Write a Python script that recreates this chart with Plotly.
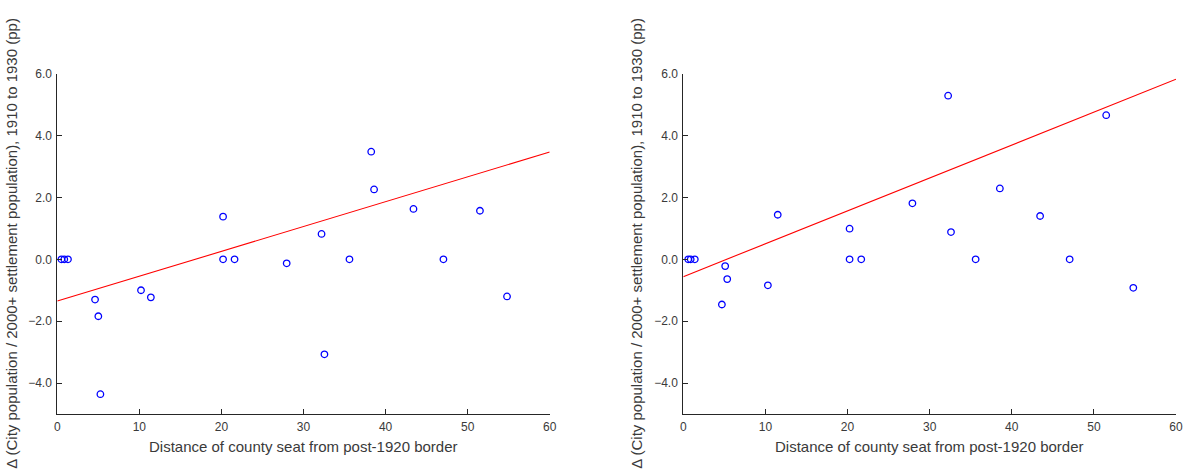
import plotly.graph_objects as go

# Left panel data
left_x = [0.5, 0.85, 1.3, 4.6, 5.0, 5.25, 10.2, 11.4, 20.2, 20.2, 21.6, 27.95,
          32.2, 32.55, 35.6, 38.25, 38.6, 43.4, 47.05, 51.5, 54.8]
left_y = [0.0, 0.0, 0.0, -1.30, -1.84, -4.36, -1.0, -1.23, 0.0, 1.38, 0.0, -0.13,
          0.82, -3.07, 0.0, 3.48, 2.26, 1.63, 0.0, 1.57, -1.2]
left_fit_x = [0, 60]
left_fit_y = [-1.35, 3.47]

# Right panel data
right_x = [0.6, 0.9, 1.4, 4.7, 5.1, 5.35, 10.3, 11.5, 20.25, 20.25, 21.67, 27.9,
           32.25, 32.6, 35.6, 38.55, 43.45, 47.05, 51.5, 54.8]
right_y = [0.0, 0.0, 0.0, -1.46, -0.22, -0.64, -0.84, 1.44, 0.0, 0.99, 0.0, 1.81,
           5.29, 0.88, 0.0, 2.29, 1.40, 0.0, 4.66, -0.92]
right_fit_x = [0, 60]
right_fit_y = [-0.56, 5.82]

y_ticks = [-4, -2, 0, 2, 4, 6]
x_ticks = [0, 10, 20, 30, 40, 50, 60]

x_title = "Distance of county seat from post-1920 border"
y_title = "\u0394 (City population / 2000+ settlement population), 1910 to 1930 (pp)"

FONT = "Liberation Sans, Arial, sans-serif"
AXC = "#262626"
TXC = "#3a3a3a"

fig = go.Figure()

def add_panel(xs, ys, fx, fy, xa, ya):
    fig.add_trace(go.Scatter(x=fx, y=fy, mode="lines", xaxis=xa, yaxis=ya,
                             line=dict(color="#ff0000", width=1.1),
                             showlegend=False, hoverinfo="skip"))
    fig.add_trace(go.Scatter(x=xs, y=ys, mode="markers", xaxis=xa, yaxis=ya,
                             marker=dict(symbol="circle-open", size=6.5, color="#0000ff",
                                         line=dict(width=1.3, color="#0000ff")),
                             cliponaxis=False, showlegend=False))

add_panel(left_x, left_y, left_fit_x, left_fit_y, "x", "y")
add_panel(right_x, right_y, right_fit_x, right_fit_y, "x2", "y2")

W, H = 1184, 471
ydom = [(H - 414) / H, (H - 73.7) / H]
xdom1 = [57.3 / W, 549.7 / W]
xdom2 = [683.3 / W, 1176 / W]

common_x = dict(range=[0, 60], tickvals=x_ticks, showline=True, linecolor=AXC, linewidth=1,
                ticks="inside", ticklen=5, tickcolor=AXC, showgrid=False, zeroline=False,
                automargin=False, ticklabelstandoff=2,
                tickfont=dict(family=FONT, size=12, color=TXC), fixedrange=True)
common_y = dict(range=[-5, 6], tickvals=y_ticks, tickformat=".1f", showline=True, linecolor=AXC,
                linewidth=1, ticks="inside", ticklen=5, tickcolor=AXC, showgrid=False,
                zeroline=False, automargin=False, ticklabelstandoff=2,
                tickfont=dict(family=FONT, size=12, color=TXC), fixedrange=True)

fig.update_layout(
    width=W, height=H, margin=dict(l=0, r=0, t=0, b=0, autoexpand=False),
    paper_bgcolor="white", plot_bgcolor="white",
    xaxis=dict(domain=xdom1, anchor="y", **common_x),
    yaxis=dict(domain=ydom, anchor="x", **common_y),
    xaxis2=dict(domain=xdom2, anchor="y2", **common_x),
    yaxis2=dict(domain=ydom, anchor="x2", **common_y),
    font=dict(family=FONT, color=TXC),
)

ymid = (ydom[0] + ydom[1]) / 2
for xc, dom in [(12, xdom1), (637, xdom2)]:
    fig.add_annotation(x=xc / W, y=ymid, xref="paper", yref="paper", text=y_title,
                       textangle=-90, showarrow=False, xanchor="center", yanchor="middle",
                       font=dict(family=FONT, size=15, color=TXC))
    fig.add_annotation(x=(dom[0] + dom[1]) / 2, y=(H - 446) / H, xref="paper", yref="paper",
                       text=x_title, showarrow=False, xanchor="center", yanchor="middle",
                       font=dict(family=FONT, size=15, color=TXC))

fig.write_html("out.html", config={"displayModeBar": False},
               post_script="document.body.style.margin='0';document.body.style.overflow='hidden';")
